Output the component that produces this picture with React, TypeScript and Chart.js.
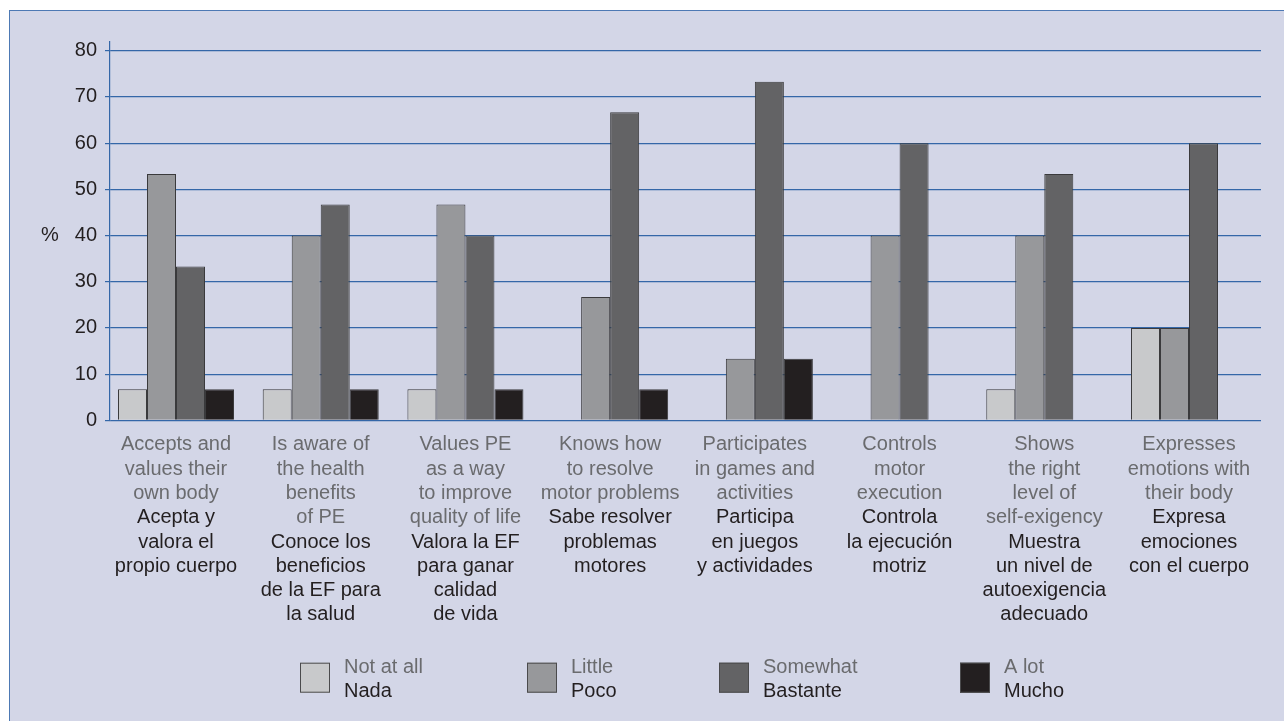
import React, { useEffect, useRef } from "react";
import { Chart, registerables } from "chart.js";

Chart.register(...registerables);

// ---- data ----
const categoriesEn: string[][] = [
  ["Accepts and", "values their", "own body"],
  ["Is aware of", "the health", "benefits", "of PE"],
  ["Values PE", "as a way", "to improve", "quality of life"],
  ["Knows how", "to resolve", "motor problems"],
  ["Participates", "in games and", "activities"],
  ["Controls", "motor", "execution"],
  ["Shows", "the right", "level of", "self-exigency"],
  ["Expresses", "emotions with", "their body"],
];
const categoriesEs: string[][] = [
  ["Acepta y", "valora el", "propio cuerpo"],
  ["Conoce los", "beneficios", "de la EF para", "la salud"],
  ["Valora la EF", "para ganar", "calidad", "de vida"],
  ["Sabe resolver", "problemas", "motores"],
  ["Participa", "en juegos", "y actividades"],
  ["Controla", "la ejecución", "motriz"],
  ["Muestra", "un nivel de", "autoexigencia", "adecuado"],
  ["Expresa", "emociones", "con el cuerpo"],
];
const seriesEn = ["Not at all", "Little", "Somewhat", "A lot"];
const seriesEs = ["Nada", "Poco", "Bastante", "Mucho"];
const nada = [6.7, 6.7, 6.7, 0, 0, 0, 6.7, 20];
const poco = [53.3, 40, 46.7, 26.7, 13.3, 40, 40, 20];
const bastante = [33.3, 46.7, 40, 66.7, 73.3, 60, 53.3, 60];
const mucho = [6.7, 6.7, 6.7, 6.7, 13.3, 0, 0, 0];
const yTickValues = [0, 10, 20, 30, 40, 50, 60, 70, 80];
const yUnit = "%";
const yUnitAt = 40;

// ---- style ----
const FONT = "'Liberation Sans', Arial, sans-serif";
const EN_COLOR = "#6a6b6e";
const ES_COLOR = "#231f20";
const GRID = "#3467a8";
const seriesColors = ["#c8c9cb", "#97989b", "#636365", "#231f20"];
const legendX = [300, 527, 719, 960];

const textPlugin = {
  id: "twoColorText",
  afterDraw(chart: any) {
    const ctx = chart.ctx as CanvasRenderingContext2D;
    const xs = chart.scales.x;
    const ys = chart.scales.y;
    const area = chart.chartArea;
    ctx.save();
    ctx.textAlign = "center";
    ctx.textBaseline = "middle";
    ctx.font = `20px ${FONT}`;
    const lh = 24.3;
    categoriesEn.forEach((en, i) => {
      const cx = xs.getPixelForValue(i);
      let ly = area.bottom + 24.5;
      ctx.fillStyle = EN_COLOR;
      en.forEach((t) => {
        ctx.fillText(t, cx, ly);
        ly += lh;
      });
      ctx.fillStyle = ES_COLOR;
      categoriesEs[i].forEach((t) => {
        ctx.fillText(t, cx, ly);
        ly += lh;
      });
    });

    // unit label
    ctx.font = `20px ${FONT}`;
    ctx.fillStyle = ES_COLOR;
    ctx.fillText(yUnit, 50, ys.getPixelForValue(yUnitAt));

    // legend
    ctx.textAlign = "left";
    ctx.font = `20px ${FONT}`;
    seriesEn.forEach((en, i) => {
      const bx = legendX[i];
      const by = 662.7;
      ctx.fillStyle = seriesColors[i];
      ctx.fillRect(bx, by, 30, 30);
      ctx.strokeStyle = "#4a4a4c";
      ctx.lineWidth = 1;
      ctx.strokeRect(bx + 0.5, by + 0.5, 29, 29);
      ctx.fillStyle = EN_COLOR;
      ctx.fillText(en, bx + 44, 667);
      ctx.fillStyle = ES_COLOR;
      ctx.fillText(seriesEs[i], bx + 44, 691);
    });
    ctx.restore();
  },
};

export default function App() {
  const ref = useRef<HTMLCanvasElement | null>(null);
  useEffect(() => {
    if (!ref.current) return;
    const mk = (label: string, data: number[], i: number) => ({
      label,
      data,
      backgroundColor: seriesColors[i],
      borderColor: "#3a3a3c",
      borderWidth: (c: any) => (c.raw ? 1 : 0),
      borderSkipped: "bottom" as const,
      categoryPercentage: 0.8017,
      barPercentage: 1,
    });
    const chart = new Chart(ref.current, {
      type: "bar",
      data: {
        labels: categoriesEn.map((l) => l.join(" ")),
        datasets: [
          mk(seriesEs[0], nada, 0),
          mk(seriesEs[1], poco, 1),
          mk(seriesEs[2], bastante, 2),
          mk(seriesEs[3], mucho, 3),
        ],
      },
      options: {
        animation: false,
        responsive: false,
        layout: { padding: { left: 0, right: 23, top: 41.5, bottom: 300.7 } },
        plugins: { legend: { display: false }, tooltip: { enabled: false } },
        scales: {
          x: {
            display: false,
            afterBuildTicks: (scale: any) => {
              scale._startValue = -0.4561;
              scale._valueRange = 7.9536;
            },
          },
          y: {
            min: 0,
            max: 82,
            afterFit: (scale: any) => {
              scale.width = 110;
            },
            afterBuildTicks: (scale: any) => {
              scale.ticks = yTickValues.map((v) => ({ value: v }));
            },
            ticks: {
              padding: 8,
              color: ES_COLOR,
              font: { family: FONT, size: 20 },
            },
            grid: {
              color: GRID,
              lineWidth: 1.2,
              tickLength: 5,
              drawTicks: true,
            },
            border: { display: true, color: GRID, width: 1.2 },
          },
        },
      },
      plugins: [textPlugin],
    });
    return () => chart.destroy();
  }, []);
  return (
    <div
      style={{
        position: "fixed",
        left: 0,
        top: 0,
        width: 1284,
        height: 721,
        background: "#ffffff",
        overflow: "hidden",
      }}
    >
      <div
        style={{
          position: "absolute",
          left: 9,
          top: 10,
          width: 1290,
          height: 720,
          background: "#d3d6e7",
          borderTop: "1px solid #4d79b4",
          borderLeft: "1px solid #4d79b4",
        }}
      />
      <canvas
        ref={ref}
        width={1284}
        height={721}
        style={{ position: "absolute", left: 0, top: 0 }}
      />
    </div>
  );
}
